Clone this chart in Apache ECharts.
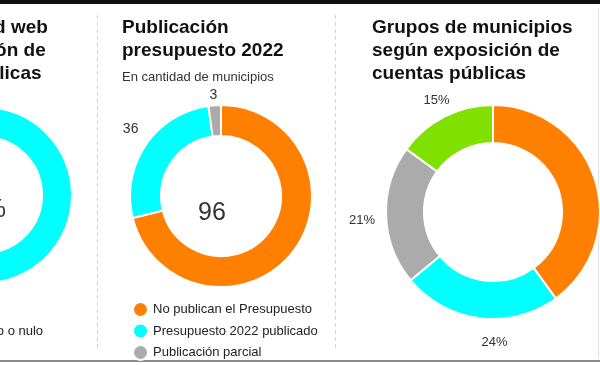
<!DOCTYPE html>
<html><head><meta charset="utf-8">
<script src="https://cdn.jsdelivr.net/npm/echarts@6/dist/echarts.min.js"></script>
<style>html,body{margin:0;padding:0;background:#fff}#c{width:600px;height:365px}</style>
</head><body><div id="c"></div>
<script>
// ---- data ----
const leftNames = ['Bajo o nulo', 'Alto'];
const leftValues = [74, 26];
const leftLegend = ['Alto', 'Bajo o nulo'];

const midNames = ['No publican el Presupuesto', 'Presupuesto 2022 publicado', 'Publicación parcial'];
const midValues = [96, 36, 3];

const rightNames = ['Exposición alta', 'Exposición media', 'Exposición baja', 'Sin exposición'];
const rightValues = [40, 24, 21, 15];

// ---- styles ----
const ORANGE = '#FF7F00', CYAN = '#00FFFF', GRAY = '#ABABAB', GREEN = '#80E000';
const FONT = 'Liberation Sans';
const leftColors = [CYAN, ORANGE];
const midColors = [ORANGE, CYAN, GRAY];
const rightColors = [ORANGE, CYAN, GRAY, GREEN];

// vertical nudge of a label: shift>0 moves down, <0 moves up (via an empty line)
function nudge(fmt, shift) {
  if (!shift) return { formatter: fmt };
  return { formatter: shift > 0 ? '\n' + fmt : fmt + '\n', lineHeight: Math.abs(shift) * 2 };
}

function ring(names, values, colors, center, radius, extraLabel) {
  return {
    type: 'pie', center: center, radius: radius, startAngle: 90, clockwise: true,
    avoidLabelOverlap: false, silent: true, animation: false,
    label: { show: false }, labelLine: { show: false },
    itemStyle: { borderColor: '#fff', borderWidth: 2 },
    emphasis: { disabled: true },
    data: names.map((n, i) => {
      const d = { name: n, value: values[i], itemStyle: { color: colors[i] } };
      if (extraLabel && extraLabel[i]) d.label = extraLabel[i];
      return d;
    })
  };
}
function labelRing(names, values, center, radius, fmt, fontSize, perItem) {
  return {
    type: 'pie', center: center, radius: radius, startAngle: 90, clockwise: true,
    avoidLabelOverlap: false, silent: true, animation: false,
    itemStyle: { color: 'rgba(0,0,0,0)', borderWidth: 0 },
    emphasis: { disabled: true },
    labelLine: { show: false },
    label: { show: true, position: 'inside', formatter: fmt, color: '#333',
             fontFamily: FONT, fontSize: fontSize },
    data: names.map((n, i) => {
      const d = { name: n + ' ', value: values[i] };
      if (perItem && perItem[i]) d.label = perItem[i];
      return d;
    })
  };
}

const titleStyle = { fontFamily: FONT, fontWeight: 'bold', fontSize: 19, lineHeight: 23, color: '#111' };
const legendBase = { orient: 'vertical', top: 301, height: 90, padding: 0, itemGap: 4.5,
  itemWidth: 15, itemHeight: 15, icon: 'circle', selectedMode: false,
  textStyle: { fontFamily: FONT, fontSize: 13, color: '#222' } };

const chart = echarts.init(document.getElementById('c'), null, { renderer: 'canvas' });
chart.setOption({
  backgroundColor: '#fff',
  animation: false,
  title: [
    { text: 'Calidad web\nAtención de\nen públicas', left: -63, top: 16, padding: 0, textStyle: titleStyle },
    { text: 'Publicación\npresupuesto 2022', left: 122, top: 16, padding: 0, textStyle: titleStyle,
      subtext: 'En cantidad de municipios', itemGap: 7,
      subtextStyle: { fontFamily: FONT, fontSize: 13, lineHeight: 16, color: '#333' } },
    { text: 'Grupos de municipios\nsegún exposición de\ncuentas públicas', left: 372, top: 16, padding: 0, textStyle: titleStyle }
  ],
  legend: [
    Object.assign({}, legendBase, { data: leftLegend, left: -43 }),
    Object.assign({}, legendBase, { data: midNames, left: 132 })
  ],
  graphic: [
    { type: 'rect', shape: { x: 0, y: 0, width: 600, height: 4 }, style: { fill: '#111' }, silent: true },
    { type: 'line', shape: { x1: 0, y1: 361, x2: 600, y2: 361 }, style: { stroke: '#8a8a8a', lineWidth: 2 }, silent: true },
    { type: 'line', shape: { x1: 97.5, y1: 15, x2: 97.5, y2: 350 }, style: { stroke: '#d6d6d6', lineWidth: 1, lineDash: [4, 3] }, silent: true },
    { type: 'line', shape: { x1: 335.5, y1: 15, x2: 335.5, y2: 350 }, style: { stroke: '#d6d6d6', lineWidth: 1, lineDash: [4, 3] }, silent: true },
    { type: 'line', shape: { x1: 598.5, y1: 8, x2: 598.5, y2: 358 }, style: { stroke: '#e2e2e2', lineWidth: 1 }, silent: true }
  ],
  series: [
    ring(leftNames, leftValues, leftColors, [-16, 195], [58, 88],
      [Object.assign({ show: true, position: 'center', fontFamily: FONT, fontSize: 25, color: '#333', padding: [0, 6, 0, 0] }, nudge('{c}%', 15))]),
    ring(midNames, midValues, midColors, [221, 196], [60, 91]),
    labelRing(midNames, midValues, [221, 196], [95, 117], '{c}', 14, [
      Object.assign({ position: 'center', fontSize: 25, padding: [0, 18, 0, 0] }, nudge('{c}', 17)),
      nudge('{c}', -6),
      nudge('{c}', 8)
    ]),
    ring(rightNames, rightValues, rightColors, [493, 212], [69, 107]),
    labelRing(rightNames, rightValues, [493, 212], [117, 139], '{c}%', 13, [
      null,
      { padding: [0, 0, 0, 36] },
      nudge('{c}%', 4),
      Object.assign({ padding: [0, 0, 0, 6] }, nudge('{c}%', 5))
    ])
  ]
});
</script>
</body></html>
